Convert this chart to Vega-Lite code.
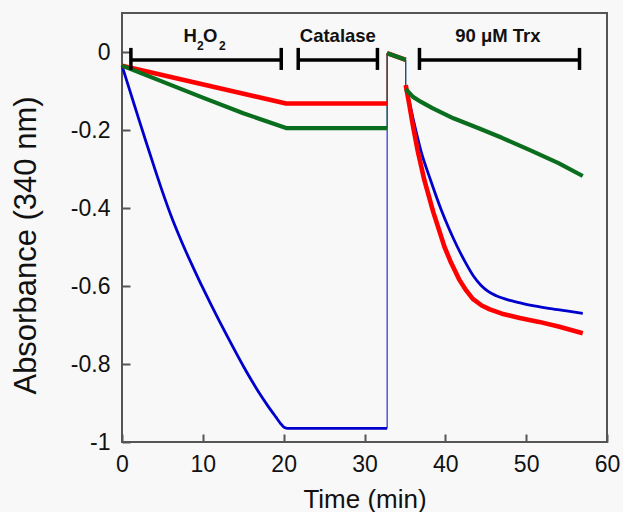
{
  "$schema": "https://vega.github.io/schema/vega-lite/v6.json",
  "width": 485,
  "height": 429,
  "autosize": {"type": "none"},
  "padding": {"left": 122, "top": 13, "right": 16, "bottom": 70},
  "background": "#f8f8f8",
  "config": {
    "view": {"stroke": "#555555", "strokeWidth": 2},
    "font": "Liberation Sans",
    "axis": {
      "domain": false,
      "grid": false,
      "offset": -8,
      "tickColor": "#555555",
      "tickWidth": 2,
      "tickSize": 8,
      "labelFlush": false,
      "labelFont": "Liberation Sans",
      "labelFontSize": 23,
      "labelColor": "#111111",
      "titleFont": "Liberation Sans",
      "titleFontSize": 26,
      "titleFontWeight": "normal",
      "titleColor": "#111111"
    },
    "axisX": {"labelPadding": 11, "titlePadding": 10},
    "axisY": {"labelPadding": 12, "titlePadding": 28, "titleFontSize": 31, "titleY": 232}
  },
  "datasets": {
    "curves": [
      {"s": "A", "seg": 1, "t": 0, "a": -0.035},
      {"s": "A", "seg": 1, "t": 1, "a": -0.101},
      {"s": "A", "seg": 1, "t": 2, "a": -0.167},
      {"s": "A", "seg": 1, "t": 3, "a": -0.232},
      {"s": "A", "seg": 1, "t": 4, "a": -0.296},
      {"s": "A", "seg": 1, "t": 5, "a": -0.358},
      {"s": "A", "seg": 1, "t": 6, "a": -0.416},
      {"s": "A", "seg": 1, "t": 7, "a": -0.468},
      {"s": "A", "seg": 1, "t": 8, "a": -0.516},
      {"s": "A", "seg": 1, "t": 9, "a": -0.561},
      {"s": "A", "seg": 1, "t": 10, "a": -0.605},
      {"s": "A", "seg": 1, "t": 11, "a": -0.647},
      {"s": "A", "seg": 1, "t": 12, "a": -0.688},
      {"s": "A", "seg": 1, "t": 13, "a": -0.728},
      {"s": "A", "seg": 1, "t": 14, "a": -0.767},
      {"s": "A", "seg": 1, "t": 15, "a": -0.805},
      {"s": "A", "seg": 1, "t": 16, "a": -0.841},
      {"s": "A", "seg": 1, "t": 17, "a": -0.875},
      {"s": "A", "seg": 1, "t": 18, "a": -0.906},
      {"s": "A", "seg": 1, "t": 19, "a": -0.935},
      {"s": "A", "seg": 1, "t": 19.6, "a": -0.952},
      {"s": "A", "seg": 1, "t": 20.1, "a": -0.963},
      {"s": "A", "seg": 1, "t": 20.5, "a": -0.965},
      {"s": "A", "seg": 1, "t": 32.8, "a": -0.965},
      {"s": "A", "seg": 2, "t": 32.8, "a": -0.003},
      {"s": "A", "seg": 2, "t": 35.1, "a": -0.02},
      {"s": "A", "seg": 3, "t": 35.1, "a": -0.085},
      {"s": "A", "seg": 3, "t": 36, "a": -0.17},
      {"s": "A", "seg": 3, "t": 37, "a": -0.255},
      {"s": "A", "seg": 3, "t": 38.2, "a": -0.33},
      {"s": "A", "seg": 3, "t": 39.5, "a": -0.405},
      {"s": "A", "seg": 3, "t": 40.5, "a": -0.455},
      {"s": "A", "seg": 3, "t": 41.5, "a": -0.5},
      {"s": "A", "seg": 3, "t": 42.5, "a": -0.54},
      {"s": "A", "seg": 3, "t": 43.5, "a": -0.575},
      {"s": "A", "seg": 3, "t": 44.4, "a": -0.598},
      {"s": "A", "seg": 3, "t": 45.3, "a": -0.614},
      {"s": "A", "seg": 3, "t": 46.3, "a": -0.625},
      {"s": "A", "seg": 3, "t": 48, "a": -0.637},
      {"s": "A", "seg": 3, "t": 49.6, "a": -0.645},
      {"s": "A", "seg": 3, "t": 51, "a": -0.651},
      {"s": "A", "seg": 3, "t": 53, "a": -0.658},
      {"s": "A", "seg": 3, "t": 55, "a": -0.664},
      {"s": "A", "seg": 3, "t": 57, "a": -0.67},
      {"s": "B", "seg": 1, "t": 0, "a": -0.035},
      {"s": "B", "seg": 1, "t": 20.3, "a": -0.132},
      {"s": "B", "seg": 1, "t": 32.8, "a": -0.132},
      {"s": "B", "seg": 2, "t": 32.8, "a": -0.003},
      {"s": "B", "seg": 2, "t": 35.1, "a": -0.02},
      {"s": "B", "seg": 3, "t": 35.1, "a": -0.085},
      {"s": "B", "seg": 3, "t": 35.5, "a": -0.13},
      {"s": "B", "seg": 3, "t": 36, "a": -0.19},
      {"s": "B", "seg": 3, "t": 36.6, "a": -0.255},
      {"s": "B", "seg": 3, "t": 37.4, "a": -0.328},
      {"s": "B", "seg": 3, "t": 38.5, "a": -0.41},
      {"s": "B", "seg": 3, "t": 39.9, "a": -0.5},
      {"s": "B", "seg": 3, "t": 40.7, "a": -0.54},
      {"s": "B", "seg": 3, "t": 41.7, "a": -0.583},
      {"s": "B", "seg": 3, "t": 42.6, "a": -0.612},
      {"s": "B", "seg": 3, "t": 43.4, "a": -0.633},
      {"s": "B", "seg": 3, "t": 44.5, "a": -0.65},
      {"s": "B", "seg": 3, "t": 45.5, "a": -0.66},
      {"s": "B", "seg": 3, "t": 47, "a": -0.671},
      {"s": "B", "seg": 3, "t": 49.2, "a": -0.682},
      {"s": "B", "seg": 3, "t": 51.6, "a": -0.692},
      {"s": "B", "seg": 3, "t": 54, "a": -0.704},
      {"s": "B", "seg": 3, "t": 57, "a": -0.721},
      {"s": "C", "seg": 1, "t": 0, "a": -0.035},
      {"s": "C", "seg": 1, "t": 5, "a": -0.076},
      {"s": "C", "seg": 1, "t": 10, "a": -0.117},
      {"s": "C", "seg": 1, "t": 15, "a": -0.157},
      {"s": "C", "seg": 1, "t": 20.3, "a": -0.195},
      {"s": "C", "seg": 1, "t": 32.8, "a": -0.195},
      {"s": "C", "seg": 2, "t": 32.8, "a": -0.003},
      {"s": "C", "seg": 2, "t": 35.1, "a": -0.02},
      {"s": "C", "seg": 3, "t": 35.1, "a": -0.095},
      {"s": "C", "seg": 3, "t": 36, "a": -0.115},
      {"s": "C", "seg": 3, "t": 37, "a": -0.128},
      {"s": "C", "seg": 3, "t": 38.4, "a": -0.144},
      {"s": "C", "seg": 3, "t": 41, "a": -0.17},
      {"s": "C", "seg": 3, "t": 44.2, "a": -0.196},
      {"s": "C", "seg": 3, "t": 47, "a": -0.22},
      {"s": "C", "seg": 3, "t": 50.4, "a": -0.251},
      {"s": "C", "seg": 3, "t": 54, "a": -0.285},
      {"s": "C", "seg": 3, "t": 57, "a": -0.318}
    ],
    "jumps": [
      {"s": "A", "t": 32.8, "a": -0.965, "a2": -0.003},
      {"s": "B", "t": 32.8, "a": -0.132, "a2": -0.003},
      {"s": "C", "t": 32.8, "a": -0.195, "a2": -0.003},
      {"s": "A", "t": 35.1, "a": -0.085, "a2": -0.02},
      {"s": "C", "t": 35.1, "a": -0.095, "a2": -0.02}
    ],
    "brackets": [
      {"t": 1.1, "t2": 19.7, "a": -0.0205},
      {"t": 21.8, "t2": 31.6, "a": -0.0205},
      {"t": 36.8, "t2": 56.6, "a": -0.0205}
    ],
    "caps": [
      {"t": 1.1, "a": 0.0105, "a2": -0.046},
      {"t": 19.7, "a": 0.0105, "a2": -0.046},
      {"t": 21.8, "a": 0.0105, "a2": -0.046},
      {"t": 31.6, "a": 0.0105, "a2": -0.046},
      {"t": 36.8, "a": 0.0105, "a2": -0.046},
      {"t": 56.6, "a": 0.0105, "a2": -0.046}
    ],
    "labels": [
      {"t": 8.45, "a": 0.026, "text": "H"},
      {"t": 10.9, "a": 0.026, "text": "O"},
      {"t": 26.7, "a": 0.026, "text": "Catalase"},
      {"t": 46.5, "a": 0.026, "text": "90 μM Trx"}
    ],
    "subs": [
      {"t": 9.7, "a": 0.005, "text": "2"},
      {"t": 12.4, "a": 0.005, "text": "2"}
    ]
  },
  "encoding": {
    "x": {"field": "t", "type": "quantitative", "scale": {"domain": [0, 60], "nice": false, "zero": false},
          "title": "Time (min)", "axis": {"values": [0, 10, 20, 30, 40, 50, 60], "labelExpr": "'' + datum.value"}},
    "y": {"field": "a", "type": "quantitative", "scale": {"domain": [-1, 0.1], "nice": false, "zero": false},
          "title": "Absorbance (340 nm)", "axis": {"values": [-1, -0.8, -0.6, -0.4, -0.2, 0], "labelExpr": "'' + datum.value"}}
  },
  "layer": [
    {
      "data": {"name": "jumps"},
      "mark": {"type": "rule", "strokeWidth": 1},
      "encoding": {
        "y2": {"field": "a2"},
        "color": {"field": "s", "type": "nominal", "scale": {"domain": ["A", "B", "C"], "range": ["#0000cc", "#ff0000", "#0b6e1f"]}, "legend": null}
      }
    },
    {
      "data": {"name": "curves"},
      "transform": [{"filter": "datum.s === 'A'"}],
      "mark": {"type": "line", "strokeWidth": 2.8, "strokeJoin": "round", "interpolate": "monotone"},
      "encoding": {
        "detail": {"field": "seg", "type": "nominal"},
        "color": {"field": "s", "type": "nominal", "legend": null}
      }
    },
    {
      "data": {"name": "curves"},
      "transform": [{"filter": "datum.s === 'B'"}],
      "mark": {"type": "line", "strokeWidth": 4.6, "strokeJoin": "round"},
      "encoding": {
        "detail": {"field": "seg", "type": "nominal"},
        "color": {"field": "s", "type": "nominal", "legend": null}
      }
    },
    {
      "data": {"name": "curves"},
      "transform": [{"filter": "datum.s === 'C'"}],
      "mark": {"type": "line", "strokeWidth": 4.2, "strokeJoin": "round"},
      "encoding": {
        "detail": {"field": "seg", "type": "nominal"},
        "color": {"field": "s", "type": "nominal", "legend": null}
      }
    },
    {
      "data": {"name": "brackets"},
      "mark": {"type": "rule", "strokeWidth": 3.5, "color": "#000000"},
      "encoding": {
        "x2": {"field": "t2"}
      }
    },
    {
      "data": {"name": "caps"},
      "mark": {"type": "rule", "strokeWidth": 3.5, "color": "#000000"},
      "encoding": {
        "y2": {"field": "a2"}
      }
    },
    {
      "data": {"name": "labels"},
      "mark": {"type": "text", "font": "Liberation Sans", "fontWeight": "bold", "fontSize": 18.5, "baseline": "alphabetic", "align": "center", "color": "#111111"},
      "encoding": {
        "text": {"field": "text"}
      }
    },
    {
      "data": {"name": "subs"},
      "mark": {"type": "text", "font": "Liberation Sans", "fontWeight": "bold", "fontSize": 12, "baseline": "alphabetic", "align": "center", "color": "#111111"},
      "encoding": {
        "text": {"field": "text"}
      }
    }
  ]
}
